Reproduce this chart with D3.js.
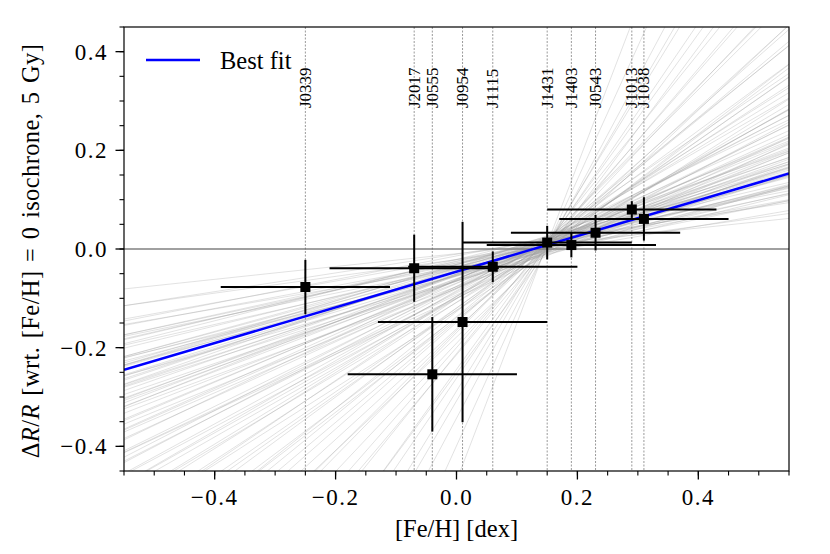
<!DOCTYPE html>
<html>
<head>
<meta charset="utf-8">
<script src="https://cdn.jsdelivr.net/npm/d3@7"></script>
<style>
  body { margin: 0; background: #fff; }
  svg, svg text { font-family: "Liberation Serif", "DejaVu Serif", serif; }
</style>
</head>
<body>
<svg id="chart" width="830" height="554"></svg>
<script>
'use strict';

// Stars, their metallicity and radius offset.
const starNames = ['J0339', 'J2017', 'J0555', 'J0954', 'J1115', 'J1431', 'J1403', 'J0543', 'J1013', 'J1038'];
const feh = [-0.25, -0.07, -0.04, 0.01, 0.06, 0.15, 0.19, 0.23, 0.29, 0.31];
const fehErr = [0.14, 0.14, 0.14, 0.14, 0.14, 0.14, 0.14, 0.14, 0.14, 0.14];
const dR = [-0.077, -0.039, -0.254, -0.148, -0.036, 0.013, 0.008, 0.033, 0.080, 0.061];
const dRErr = [0.055, 0.068, 0.116, 0.203, 0.031, 0.034, 0.025, 0.036, 0.017, 0.044];

// Best fit line: dR = slope * [Fe/H] + intercept
const fitSlope = 0.362;
const fitIntercept = -0.046;

// Posterior sample lines, given as slope and value at [Fe/H] = samplePivot.
const samplePivot = 0.15;
const sampleSlopes = [
  0.13, 0.17, 0.19, 0.21, 0.22, 0.24, 0.25, 0.26, 0.27, 0.28, 0.29, 0.30, 0.30, 0.31,
  0.32, 0.33, 0.33, 0.34, 0.35, 0.35, 0.36, 0.37, 0.37, 0.38, 0.39, 0.40, 0.40, 0.41,
  0.42, 0.43, 0.43, 0.44, 0.45, 0.46, 0.47, 0.48, 0.49, 0.50, 0.51, 0.52, 0.53, 0.55,
  0.56, 0.57, 0.59, 0.60, 0.62, 0.63, 0.65, 0.67, 0.69, 0.71, 0.73, 0.75, 0.78, 0.80,
  0.83, 0.86, 0.90, 0.94, 0.98, 1.03, 1.08, 1.15, 1.22, 1.30, 1.40, 1.52, 1.65, 1.80,
  2.00, 2.30, 2.70, 3.20,
  0.23, 0.28, 0.32, 0.36, 0.41, 0.44, 0.47, 0.54, 0.58, 0.64, 0.70, 0.77, 0.85, 0.92,
  1.00, 1.12, 1.25, 1.45, 1.70, 2.10
];
const sampleOffsets = [
  0.010, 0.004, 0.018, -0.006, 0.012, 0.022, -0.002, 0.008, 0.015, 0.001, 0.019, -0.010, 0.009, 0.025,
  0.003, 0.013, -0.004, 0.020, 0.007, -0.012, 0.016, 0.002, 0.024, 0.011, -0.007, 0.017, 0.005, 0.021,
  -0.001, 0.014, 0.027, 0.006, -0.009, 0.018, 0.010, 0.003, 0.023, -0.005, 0.012, 0.016, 0.000, 0.020,
  0.008, -0.014, 0.026, 0.011, 0.004, 0.019, -0.003, 0.014, 0.007, 0.022, 0.001, 0.017, -0.008, 0.012,
  0.024, 0.005, 0.015, -0.002, 0.020, 0.009, 0.013, -0.006, 0.018, 0.004, 0.010, 0.016, -0.004, 0.008,
  0.012, 0.002, 0.006, 0.010,
  0.006, 0.014, -0.003, 0.021, 0.009, 0.001, 0.017, 0.011, -0.006, 0.015, 0.004, 0.019, 0.008, -0.001,
  0.013, 0.006, 0.018, 0.003, 0.011, 0.007
];

const xTicks = [-0.4, -0.2, 0.0, 0.2, 0.4];
const yTicks = [-0.4, -0.2, 0.0, 0.2, 0.4];

const svg = d3.select('#chart');
const serif = '"Liberation Serif", "DejaVu Serif", serif';
const plotLeft = 124, plotRight = 789, plotTop = 27, plotBottom = 471;

const x = d3.scaleLinear().domain([-0.55, 0.55]).range([plotLeft, plotRight]);
const y = d3.scaleLinear().domain([-0.45, 0.45]).range([plotBottom, plotTop]);

const fmt = v => (v < 0 ? '\u2212' : '') + Math.abs(v).toFixed(1);

svg.append('defs').append('clipPath').attr('id', 'plot-clip')
  .append('rect')
  .attr('x', plotLeft).attr('y', plotTop)
  .attr('width', plotRight - plotLeft).attr('height', plotBottom - plotTop);

const plot = svg.append('g').attr('clip-path', 'url(#plot-clip)');

// Posterior samples, thin light grey lines
const [x0, x1] = x.domain();
plot.append('g')
  .selectAll('line')
  .data(sampleSlopes.map((m, i) => ({ m, c: sampleOffsets[i] })))
  .join('line')
    .attr('x1', x(x0))
    .attr('x2', x(x1))
    .attr('y1', d => y(d.c + d.m * (x0 - samplePivot)))
    .attr('y2', d => y(d.c + d.m * (x1 - samplePivot)))
    .attr('stroke', '#a0a0a0')
    .attr('stroke-opacity', 0.38)
    .attr('stroke-width', 0.8);

// Zero line
plot.append('line')
  .attr('x1', plotLeft).attr('x2', plotRight)
  .attr('y1', y(0)).attr('y2', y(0))
  .attr('stroke', '#808080')
  .attr('stroke-width', 1.3);

// Vertical dashed lines marking each star
plot.append('g')
  .selectAll('line')
  .data(feh)
  .join('line')
    .attr('x1', d => x(d)).attr('x2', d => x(d))
    .attr('y1', plotTop).attr('y2', plotBottom)
    .attr('stroke', '#555')
    .attr('stroke-width', 0.6)
    .attr('stroke-dasharray', '2,1.5');

// Best fit
plot.append('line')
  .attr('x1', x(x0)).attr('x2', x(x1))
  .attr('y1', y(fitSlope * x0 + fitIntercept))
  .attr('y2', y(fitSlope * x1 + fitIntercept))
  .attr('stroke', '#0000ff')
  .attr('stroke-width', 2.5);

// Error bars and markers
const stars = starNames.map((name, i) => ({
  name, feh: feh[i], fehErr: fehErr[i], dR: dR[i], dRErr: dRErr[i]
}));

const pts = plot.append('g').selectAll('g').data(stars).join('g');
pts.append('line')
  .attr('x1', d => x(d.feh - d.fehErr)).attr('x2', d => x(d.feh + d.fehErr))
  .attr('y1', d => y(d.dR)).attr('y2', d => y(d.dR))
  .attr('stroke', '#000').attr('stroke-width', 2);
pts.append('line')
  .attr('x1', d => x(d.feh)).attr('x2', d => x(d.feh))
  .attr('y1', d => y(d.dR - d.dRErr)).attr('y2', d => y(d.dR + d.dRErr))
  .attr('stroke', '#000').attr('stroke-width', 2);
pts.append('rect')
  .attr('x', d => x(d.feh) - 5).attr('y', d => y(d.dR) - 5)
  .attr('width', 10).attr('height', 10)
  .attr('fill', '#000');

// Star name labels, rotated along the dashed lines
svg.append('g')
  .selectAll('text')
  .data(stars)
  .join('text')
    .attr('transform', d => `translate(${x(d.feh) + 5.5},108) rotate(-90)`)
    .attr('font-family', serif)
    .attr('font-size', 17)
    .text(d => d.name);

// Frame
svg.append('rect')
  .attr('x', plotLeft).attr('y', plotTop)
  .attr('width', plotRight - plotLeft).attr('height', plotBottom - plotTop)
  .attr('fill', 'none')
  .attr('stroke', '#000')
  .attr('stroke-width', 1.2);

// Axes: major ticks with labels, minor ticks every 0.05
const xAxis = svg.append('g').attr('transform', `translate(0,${plotBottom})`);
xAxis.selectAll('.minor')
  .data(d3.range(-11, 12).map(k => k * 0.05))
  .join('line')
    .attr('x1', d => x(d)).attr('x2', d => x(d))
    .attr('y1', 0).attr('y2', 4.5)
    .attr('stroke', '#000').attr('stroke-width', 1.1);
xAxis.selectAll('.major')
  .data(xTicks)
  .join('g')
    .attr('transform', d => `translate(${x(d)},0)`)
    .call(g => g.append('line').attr('y2', 8.5).attr('stroke', '#000').attr('stroke-width', 1.3))
    .call(g => g.append('text')
      .attr('y', 34)
      .attr('text-anchor', 'middle')
      .attr('font-family', serif)
      .attr('font-size', 23)
      .attr('letter-spacing', 1.5)
      .text(fmt));

const yAxis = svg.append('g').attr('transform', `translate(${plotLeft},0)`);
yAxis.selectAll('.minor')
  .data(d3.range(-9, 10).map(k => k * 0.05))
  .join('line')
    .attr('y1', d => y(d)).attr('y2', d => y(d))
    .attr('x1', 0).attr('x2', -4.5)
    .attr('stroke', '#000').attr('stroke-width', 1.1);
yAxis.selectAll('.major')
  .data(yTicks)
  .join('g')
    .attr('transform', d => `translate(0,${y(d)})`)
    .call(g => g.append('line').attr('x2', -8.5).attr('stroke', '#000').attr('stroke-width', 1.3))
    .call(g => g.append('text')
      .attr('x', -16)
      .attr('dy', '0.35em')
      .attr('text-anchor', 'end')
      .attr('font-family', serif)
      .attr('font-size', 23)
      .attr('letter-spacing', 1.5)
      .text(fmt));

// Axis titles
svg.append('text')
  .attr('x', (plotLeft + plotRight) / 2)
  .attr('y', 537)
  .attr('text-anchor', 'middle')
  .attr('font-family', serif)
  .attr('font-size', 24.5)
  .text('[Fe/H] [dex]');

const yTitle = svg.append('text')
  .attr('transform', `translate(39,${(plotTop + plotBottom) / 2 + 2}) rotate(-90)`)
  .attr('text-anchor', 'middle')
  .attr('font-family', serif)
  .attr('font-size', 24.5)
  .attr('letter-spacing', 0.4)
  .attr('word-spacing', 2);
yTitle.append('tspan').text('\u0394');
yTitle.append('tspan').attr('font-style', 'italic').text('R');
yTitle.append('tspan').text('/');
yTitle.append('tspan').attr('font-style', 'italic').text('R');
yTitle.append('tspan').text(' [wrt. [Fe/H] = 0 isochrone, 5 Gy]');

// Legend
const legend = svg.append('g').attr('transform', 'translate(146,60)');
legend.append('line')
  .attr('x2', 54)
  .attr('stroke', '#0000ff').attr('stroke-width', 2.5);
legend.append('text')
  .attr('x', 74).attr('dy', '0.35em')
  .attr('font-family', serif)
  .attr('font-size', 24.5)
  .text('Best fit');
</script>
</body>
</html>
